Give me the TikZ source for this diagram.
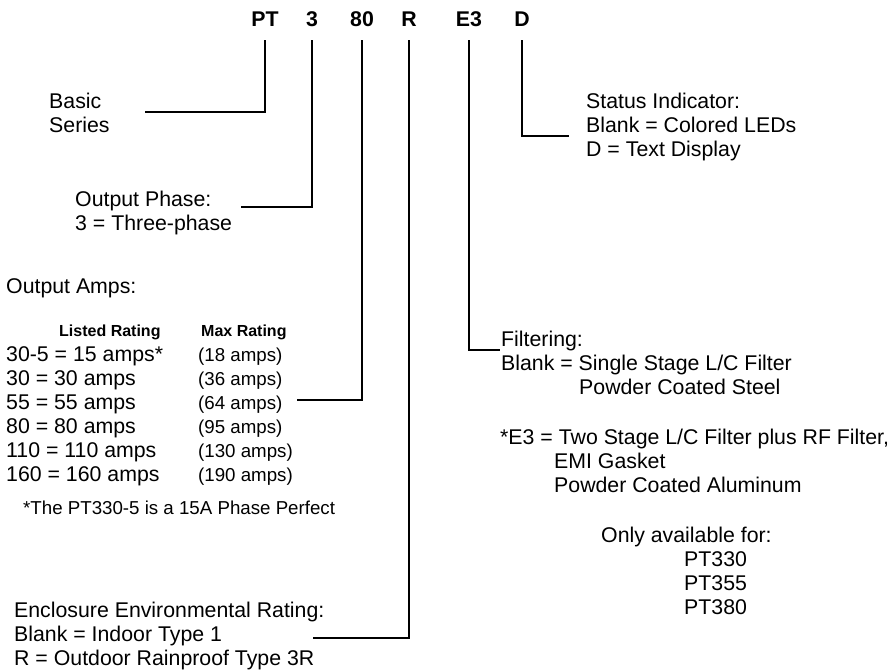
\documentclass[tikz,border=0pt]{standalone}
\usepackage{fontspec}
\setmainfont{Liberation Sans}
\newcommand{\lblfont}{\fontsize{21.3}{24}\selectfont}
\newcommand{\maxfont}{\fontsize{18.7}{24}\selectfont}
\newcommand{\hdfont}{\fontsize{16}{19}\selectfont\bfseries}

\begin{document}
\begin{tikzpicture}[x=1pt,y=-1pt,
  code/.style={font=\lblfont\bfseries,anchor=base,inner sep=0pt,outer ysep=14pt},
  lbl/.style={font=\lblfont,anchor=base west,align=left,inner sep=0pt},
  lead/.style={line width=1.4pt}]
  \useasboundingbox (0,0) rectangle (894,670);
  % model number
  \node[code] (pt) at (265,26) {PT};
  \node[code] (ph) at (312,26) {3};
  \node[code] (amp) at (362,26) {80};
  \node[code] (enc) at (409,26) {R};
  \node[code] (flt) at (469,26) {E3};
  \node[code] (st) at (522,26) {D};
  % left side (base = last line)
  \node[lbl] (basic) at (49,132.5) {Basic\\Series};
  \node[lbl] (phase) at (75,230.5) {Output Phase:\\3 = Three-phase};
  \node[lbl] (amps) at (6,293) {Output Amps:};
  \node[lbl,font=\hdfont] (lhd) at (59,336) {Listed Rating};
  \node[lbl,font=\hdfont] (mhd) at (201,336) {Max Rating};
  \node[lbl] (rates) at (6,481.5) {30-5 = 15 amps*\\30 = 30 amps\\55 = 55 amps\\80 = 80 amps\\110 = 110 amps\\160 = 160 amps};
  \node[lbl,font=\maxfont] (maxr) at (198,481.5) {(18 amps)\\(36 amps)\\(64 amps)\\(95 amps)\\(130 amps)\\(190 amps)};
  \node[lbl,font=\maxfont] (note) at (23,514.5) {*The PT330-5 is a 15A Phase Perfect};
  \node[lbl] (encl) at (14,665.5) {Enclosure Environmental Rating:\\Blank = Indoor Type 1\\R = Outdoor Rainproof Type 3R};
  % right side
  \node[lbl] (stat) at (586,156.5) {Status Indicator:\\Blank = Colored LEDs\\D = Text Display};
  \node[lbl] (filt) at (501,394.5) {Filtering:\\Blank = Single Stage L/C Filter\\\hspace*{78pt}Powder Coated Steel};
  \node[lbl] (emi) at (500,492.5) {*E3 = Two Stage L/C Filter plus RF Filter,\\\hspace*{54pt}EMI Gasket\\\hspace*{54pt}Powder Coated Aluminum};
  \node[lbl] (avail) at (601,542.5) {Only available for:};
  \node[lbl] (models) at (684,614.5) {PT330\\PT355\\PT380};
  % leader ends
  \coordinate (basicE) at (145,112);
  \coordinate (phaseE) at (241,207);
  \coordinate (ampsE) at (297,400);
  \coordinate (enclE) at (313,638);
  \coordinate (filtE) at (500,350);
  \coordinate (statE) at (569,136);
  \draw[lead] (pt.south) |- (basicE);
  \draw[lead] (ph.south) |- (phaseE);
  \draw[lead] (amp.south) |- (ampsE);
  \draw[lead] (enc.south) |- (enclE);
  \draw[lead] (flt.south) |- (filtE);
  \draw[lead] (st.south) |- (statE);
\end{tikzpicture}
\end{document}
